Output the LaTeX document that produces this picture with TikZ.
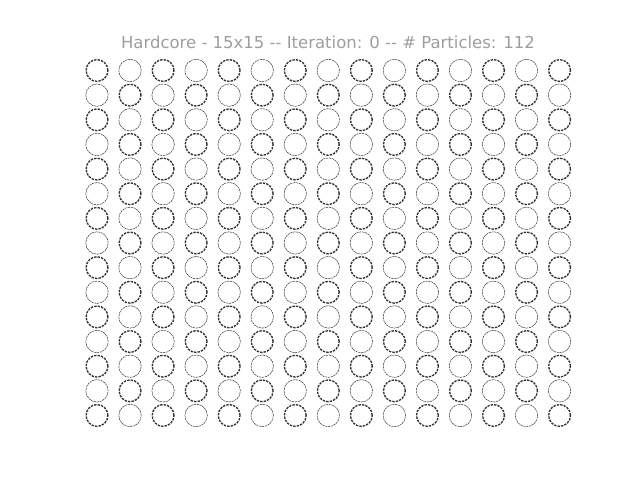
\documentclass[tikz,border=0pt]{standalone}
\usepackage{fontspec}
\newfontfamily\titlefont{DejaVu Sans}
\begin{document}
\begin{tikzpicture}[x=1pt,y=-1pt,
  cell/.style={circle, inner sep=0pt, minimum size=22.4pt, draw=black!80, line width=0.5pt, dash pattern=on 2.2pt off 0.7pt},
  particle/.style={circle, inner sep=0pt, minimum size=21.8pt, draw=black!80, line width=1.35pt, dash pattern=on 2.4pt off 1.1pt},
  titletext/.style={font=\titlefont\fontsize{16.5}{18}\selectfont, text=black!38, inner sep=0pt, anchor=base}]
\useasboundingbox (0,0) rectangle (640,480);
\node[titletext] (title) at (328,48.5) {Hardcore - 15x15 -- Iteration: 0 -- \# Particles: 112};
\foreach \i in {0,...,14}{
  \foreach \j in {0,...,14}{
    \pgfmathtruncatemacro{\parity}{mod(\i+\j,2)}
    \ifnum\parity=0
      \node[particle] (c-\i-\j) at ({97+33.04*\j},{70.5+24.64*\i}) {};
    \else
      \node[cell] (c-\i-\j) at ({97+33.04*\j},{70.5+24.64*\i}) {};
    \fi
  }
}
\end{tikzpicture}
\end{document}
